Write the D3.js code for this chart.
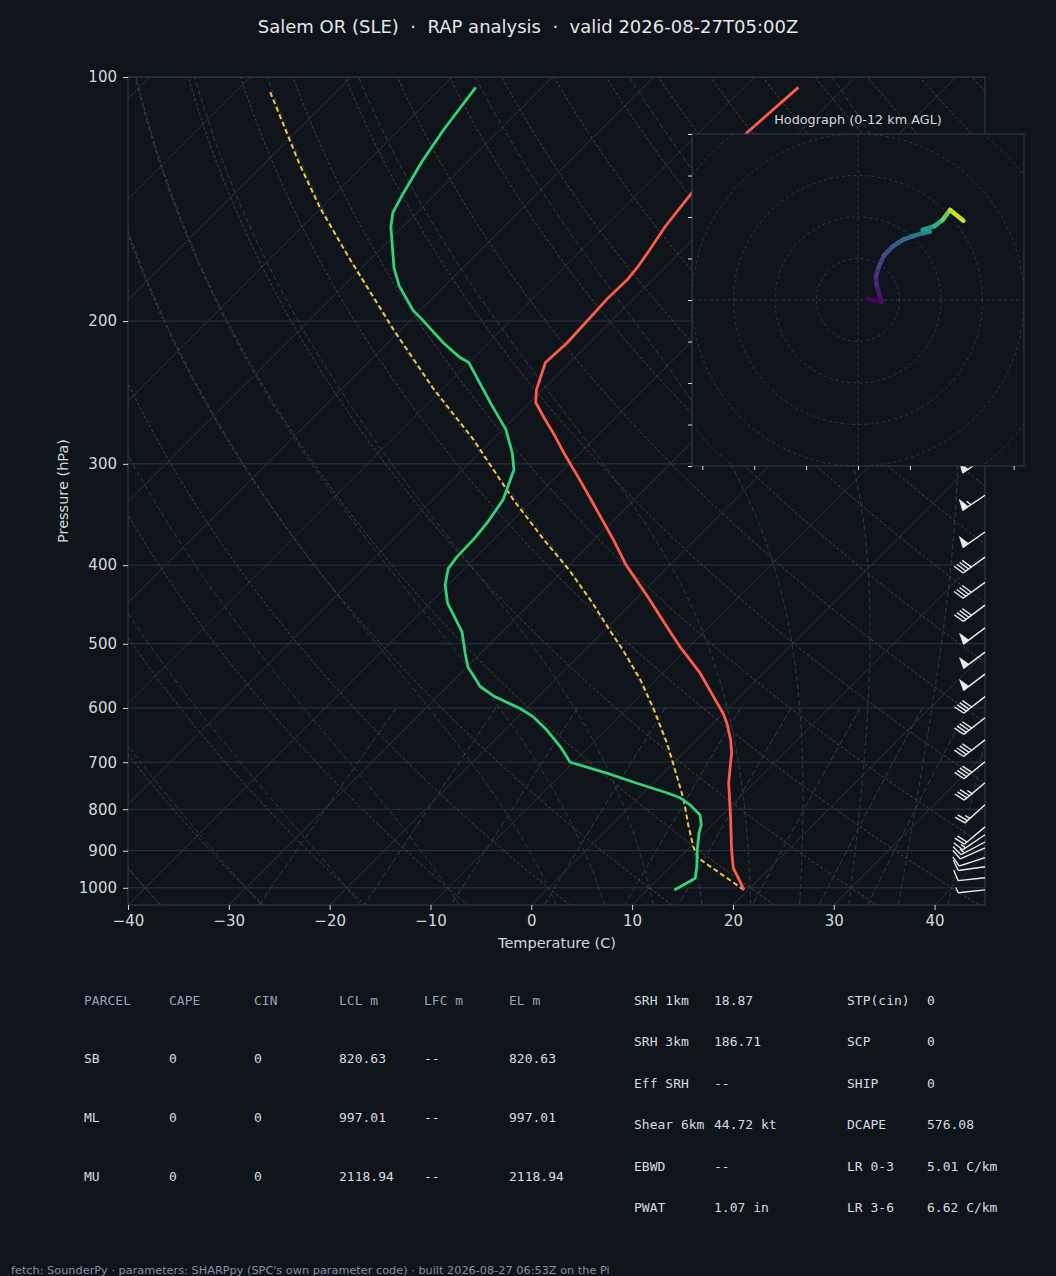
<!DOCTYPE html>
<html lang="en">
<head>
<meta charset="utf-8">
<title>Salem OR (SLE) sounding</title>
<script src="https://cdn.jsdelivr.net/npm/d3@7"></script>
<style>
  html, body { margin: 0; padding: 0; background: #0f141a; }
  svg { display: block; }
  text { font-family: "DejaVu Sans", sans-serif; }
  .mono { font-family: "DejaVu Sans Mono", monospace; }
</style>
</head>
<body>
<svg id="chart" width="1056" height="1276"></svg>
<script>
// ---- sounding data ----
const tempP = [1006, 977, 946, 898, 817, 743, 702, 682, 657, 627, 609, 581, 544, 504, 476, 437, 400, 372, 332, 312, 293, 274, 263, 252, 243, 225, 213, 199, 187, 178, 172, 164, 153, 147, 139, 128, 117, 103]
const tempC = [19.6, 18.1, 16.4, 14.4, 11.0, 7.5, 5.7, 4.8, 3.4, 1.4, 0.0, -2.6, -6.2, -10.9, -14.2, -19.1, -24.3, -28.1, -34.3, -37.7, -41.2, -44.8, -47.1, -49.4, -50.6, -52.4, -52.2, -52.4, -52.6, -52.5, -52.7, -53.2, -54.0, -54.3, -54.7, -54.9, -55.2, -54.6]

const dewP = [1006, 973, 941, 898, 856, 836, 813, 790, 775, 764, 743, 722, 700, 670, 639, 615, 601, 581, 565, 534, 514, 483, 474, 446, 423, 404, 391, 371, 354, 332, 305, 291, 272, 253, 225, 222, 213, 200, 194, 181, 172, 153, 147, 139, 127, 116, 103]
const dewC = [12.7, 13.6, 12.6, 11.0, 9.5, 8.9, 7.8, 5.8, 4.2, 2.4, -1.6, -5.6, -10.3, -12.8, -15.8, -18.5, -20.6, -24.3, -26.7, -29.9, -31.5, -34.0, -35.0, -38.2, -40.3, -41.6, -41.9, -42.0, -42.3, -43.0, -44.9, -46.7, -49.7, -53.7, -60.0, -61.3, -64.4, -68.6, -70.7, -74.5, -76.8, -81.2, -82.4, -83.3, -84.6, -85.6, -86.6]

const parcelP = [1006, 919, 890, 836, 779, 702, 663, 603, 554, 509, 481, 446, 406, 372, 332, 280, 242, 205, 167, 145, 128, 104]
const parcelC = [19.6, 11.9, 10.3, 7.6, 4.7, 0.0, -2.6, -7.2, -11.5, -16.2, -19.5, -23.8, -29.4, -35.0, -42.0, -51.9, -61.0, -70.7, -82.3, -90.1, -96.5, -106.7]

const windP = [295, 328, 364, 391, 420, 448, 478, 512, 545, 581, 617, 657, 699, 742, 790, 841, 860, 878, 893, 918, 942, 972, 1006]
const windKt = [50, 55, 50, 40, 40, 40, 50, 50, 50, 40, 40, 40, 40, 35, 25, 20, 15, 15, 10, 10, 10, 10, 5]
const windDir = [236, 236, 235, 234, 234, 233, 233, 233, 233, 232, 232, 232, 231, 230, 228, 230, 236, 242, 246, 252, 262, 264, 264]

// hodograph, m/s components and height AGL (km)
const hodoU = [2.3, 5.8, 5.1, 4.5, 4.3, 5.0, 6.3, 8.4, 10.8, 13.2, 15.6, 17.3, 15.6, 18.4, 20.4, 22.2, 25.4]
const hodoV = [0.2, -0.4, 1.4, 3.6, 5.6, 8.0, 10.8, 12.9, 14.5, 15.4, 16.1, 16.5, 16.9, 17.8, 19.3, 21.7, 19.1]
const hodoZ = [0, 0.3, 0.6, 1.0, 1.5, 2.0, 2.6, 3.2, 3.8, 4.4, 5.0, 5.5, 6.0, 7.0, 8.5, 10.0, 12.0]

const pressureTicks = [100, 200, 300, 400, 500, 600, 700, 800, 900, 1000]
const tempTicks = [-40, -30, -20, -10, 0, 10, 20, 30, 40]
const hodoRings = [10, 20, 30, 40, 50, 60]
const hodoTicksX = [-37.5, -25, -12.5, 0, 12.5, 25, 37.5]
const hodoTicksY = [-40, -30, -20, -10, 0, 10, 20, 30, 40]

// parcel table
const tableHead = ["PARCEL", "CAPE", "CIN", "LCL m", "LFC m", "EL m"]
const parcelNames = ["SB", "ML", "MU"]
const parcelCape = ["0", "0", "0"]
const parcelCin = ["0", "0", "0"]
const parcelLcl = ["820.63", "997.01", "2118.94"]
const parcelLfc = ["--", "--", "--"]
const parcelEl = ["820.63", "997.01", "2118.94"]

const paramNamesA = ["SRH 1km", "SRH 3km", "Eff SRH", "Shear 6km", "EBWD", "PWAT"]
const paramValsA = ["18.87", "186.71", "--", "44.72 kt", "--", "1.07 in"]
const paramNamesB = ["STP(cin)", "SCP", "SHIP", "DCAPE", "LR 0-3", "LR 3-6"]
const paramValsB = ["0", "0", "0", "576.08", "5.01 C/km", "6.62 C/km"]

// ---- layout ----
const svg = d3.select('#chart')
const bg = '#0f141a'
const textCol = '#d3d8de'
svg.append('rect').attr('width', 1056).attr('height', 1276).attr('fill', bg)

const plot = { left: 128, right: 985, top: 77, bottom: 905 }
const x = d3.scaleLinear().domain([-40, 45]).range([plot.left, plot.right])
const y = d3.scaleLog().domain([1050, 100]).range([plot.bottom, plot.top])
// 45 degree skew: shift right by the height above the bottom edge
const sx = (t, p) => x(t) + (y(1050) - y(p))

svg.append('defs').append('clipPath').attr('id', 'plotClip')
  .append('rect')
  .attr('x', plot.left).attr('y', plot.top)
  .attr('width', plot.right - plot.left).attr('height', plot.bottom - plot.top)

const inner = svg.append('g').attr('clip-path', 'url(#plotClip)')

const line = d3.line().x(d => sx(d[1], d[0])).y(d => y(d[0]))

// pressure levels for the background curves
const pLevels = d3.range(0, 121).map(i => 1050 * Math.pow(100 / 1050, i / 120))

// isotherms (skewed x grid)
d3.range(-130, 41, 10).forEach(t => {
  inner.append('path')
    .attr('d', line([[1050, t], [100, t]]))
    .attr('stroke', '#29323e').attr('stroke-width', 1).attr('fill', 'none')
})
// pressure grid
pressureTicks.forEach(p => {
  inner.append('line')
    .attr('x1', plot.left).attr('x2', plot.right)
    .attr('y1', y(p)).attr('y2', y(p))
    .attr('stroke', '#2a3441').attr('stroke-width', 1)
})

// dry adiabats
d3.range(-40, 246, 10).forEach(t0 => {
  const th = t0 + 273.15
  const pts = pLevels.map(p => [p, th * Math.pow(p / 1000, 0.2857) - 273.15])
  inner.append('path').attr('d', line(pts))
    .attr('stroke', '#4e4030').attr('stroke-width', 1)
    .attr('stroke-dasharray', '3,2').attr('fill', 'none')
})

// moist adiabats
const Rd = 287.04, Cp = 1005.7, Lv = 2.501e6, eps = 0.622
const es = tk => { const c = tk - 273.15; return 6.112 * Math.exp(17.67 * c / (c + 243.5)) }
const moistRate = (p, tk) => {
  const e = es(tk), rs = eps * e / (p - e)
  return (Rd * tk + Lv * rs) / (Cp + Lv * Lv * rs * eps / (Rd * tk * tk)) / p
}
function integrate(t0, p0, p1, n) {
  const h = (p1 - p0) / n
  let tk = t0, p = p0
  const out = [[p, tk - 273.15]]
  for (let i = 0; i < n; i++) {
    const k1 = moistRate(p, tk)
    const k2 = moistRate(p + h / 2, tk + h / 2 * k1)
    const k3 = moistRate(p + h / 2, tk + h / 2 * k2)
    const k4 = moistRate(p + h, tk + h * k3)
    tk += h / 6 * (k1 + 2 * k2 + 2 * k3 + k4)
    p += h
    out.push([p, tk - 273.15])
  }
  return out
}
const moistStarts = d3.range(-40, 0, 10).concat(d3.range(0, 46, 5))
moistStarts.forEach(t0 => {
  const down = integrate(t0 + 273.15, 1000, 1050, 10).reverse()
  const up = integrate(t0 + 273.15, 1000, 100, 300)
  inner.append('path').attr('d', line(down.concat(up.slice(1))))
    .attr('stroke', '#26424b').attr('stroke-width', 1)
    .attr('stroke-dasharray', '5,3').attr('fill', 'none')
})

// mixing ratio lines
const mixRatios = [0.0004, 0.001, 0.002, 0.004, 0.007, 0.01, 0.016, 0.024, 0.032]
mixRatios.forEach(w => {
  const pts = d3.range(0, 21).map(i => {
    const p = 600 + (1050 - 600) * i / 20
    const a = Math.log(w * p / (eps + w) / 6.112)
    return [p, 243.5 * a / (17.67 - a)]
  })
  inner.append('path').attr('d', line(pts))
    .attr('stroke', '#2a3e56').attr('stroke-width', 1)
    .attr('stroke-dasharray', '6,3').attr('fill', 'none')
})

// profiles
const zipP = (ps, ts) => ps.map((p, i) => [p, ts[i]])
inner.append('path').attr('d', line(zipP(parcelP, parcelC)))
  .attr('stroke', '#f4c443').attr('stroke-width', 2)
  .attr('stroke-dasharray', '5,3').attr('fill', 'none')
inner.append('path').attr('d', line(zipP(tempP, tempC)))
  .attr('stroke', '#ff5a4a').attr('stroke-width', 2.8)
  .attr('stroke-linejoin', 'round').attr('fill', 'none')
inner.append('path').attr('d', line(zipP(dewP, dewC)))
  .attr('stroke', '#33d17a').attr('stroke-width', 2.8)
  .attr('stroke-linejoin', 'round').attr('fill', 'none')

// spines
svg.append('rect')
  .attr('x', plot.left).attr('y', plot.top)
  .attr('width', plot.right - plot.left).attr('height', plot.bottom - plot.top)
  .attr('fill', 'none').attr('stroke', '#33404f').attr('stroke-width', 1)

// axes
const yAxis = svg.append('g').attr('transform', `translate(${plot.left},0)`)
  .call(d3.axisLeft(y).tickValues(pressureTicks).tickFormat(d3.format('d')).tickSize(5).tickPadding(6))
const xAxis = svg.append('g').attr('transform', `translate(0,${plot.bottom})`)
  .call(d3.axisBottom(x).tickValues(tempTicks).tickFormat(d3.format('d')).tickSize(5).tickPadding(5))
;[yAxis, xAxis].forEach(a => {
  a.select('.domain').remove()
  a.selectAll('.tick line').attr('stroke', textCol)
  a.selectAll('.tick text').attr('fill', textCol)
    .style('font-family', '"DejaVu Sans", sans-serif').style('font-size', '15px')
})

svg.append('text').attr('x', 557).attr('y', 948).attr('text-anchor', 'middle')
  .attr('fill', textCol).style('font-size', '14.5px').text('Temperature (C)')
svg.append('text').attr('transform', 'translate(68,491) rotate(-90)').attr('text-anchor', 'middle')
  .attr('fill', textCol).style('font-size', '14.5px').text('Pressure (hPa)')

svg.append('text').attr('x', 528).attr('y', 33).attr('text-anchor', 'middle')
  .attr('fill', '#e2e6eb').style('font-size', '18px').style('white-space', 'pre')
  .text('Salem OR (SLE)  ·  RAP analysis  ·  valid 2026-08-27T05:00Z')

// ---- wind barbs along the right edge ----
const barbG = svg.append('g')
function drawBarb(px, py, spd, dir) {
  const L = 27, fh = 0.4 * L, fw = 0.25 * L, sp = 0.125 * L
  const r = dir * Math.PI / 180
  const d = [Math.sin(r), -Math.cos(r)]
  const n = [-d[1], d[0]]
  const pt = (s, h) => [px + d[0] * s + n[0] * h, py + d[1] * s + n[1] * h]
  let rest = Math.round(spd / 5) * 5
  const flags = Math.floor(rest / 50); rest -= flags * 50
  const fulls = Math.floor(rest / 10); rest -= fulls * 10
  const half = rest >= 5
  const col = '#e8ebef'
  barbG.append('line')
    .attr('x1', px).attr('y1', py).attr('x2', pt(L, 0)[0]).attr('y2', pt(L, 0)[1])
    .attr('stroke', col).attr('stroke-width', 1.4)
  let off = L
  for (let i = 0; i < flags; i++) {
    barbG.append('polygon')
      .attr('points', [pt(off, 0), pt(off - fw / 2, fh), pt(off - fw, 0)].map(q => q.join(',')).join(' '))
      .attr('fill', col).attr('stroke', col).attr('stroke-width', 0.8)
    off -= fw + sp
  }
  for (let i = 0; i < fulls; i++) {
    const a = pt(off, 0), b = pt(off + fw / 2, fh)
    barbG.append('line').attr('x1', a[0]).attr('y1', a[1]).attr('x2', b[0]).attr('y2', b[1])
      .attr('stroke', col).attr('stroke-width', 1.4)
    off -= sp
  }
  if (half) {
    const a = pt(off, 0), b = pt(off + fw / 4, fh / 2)
    barbG.append('line').attr('x1', a[0]).attr('y1', a[1]).attr('x2', b[0]).attr('y2', b[1])
      .attr('stroke', col).attr('stroke-width', 1.4)
  }
}
windP.forEach((p, i) => drawBarb(plot.right, y(p), windKt[i], windDir[i]))

// ---- hodograph inset ----
const hodo = { left: 692, right: 1024, top: 134, bottom: 466 }
const hx = d3.scaleLinear().domain([-40, 40]).range([hodo.left, hodo.right])
const hy = d3.scaleLinear().domain([-40, 40]).range([hodo.bottom, hodo.top])
svg.append('defs').append('clipPath').attr('id', 'hodoClip')
  .append('rect').attr('x', hodo.left).attr('y', hodo.top)
  .attr('width', hodo.right - hodo.left).attr('height', hodo.bottom - hodo.top)

svg.append('rect').attr('x', hodo.left).attr('y', hodo.top)
  .attr('width', hodo.right - hodo.left).attr('height', hodo.bottom - hodo.top)
  .attr('fill', bg)
const hg = svg.append('g').attr('clip-path', 'url(#hodoClip)')
hodoRings.forEach(rv => {
  hg.append('circle').attr('cx', hx(0)).attr('cy', hy(0)).attr('r', hx(rv) - hx(0))
    .attr('fill', 'none').attr('stroke', '#2e3846').attr('stroke-width', 1)
    .attr('stroke-dasharray', '3,3')
})
hg.append('line').attr('x1', hodo.left).attr('x2', hodo.right).attr('y1', hy(0)).attr('y2', hy(0))
  .attr('stroke', '#2e3846').attr('stroke-dasharray', '3,3')
hg.append('line').attr('y1', hodo.top).attr('y2', hodo.bottom).attr('x1', hx(0)).attr('x2', hx(0))
  .attr('stroke', '#2e3846').attr('stroke-dasharray', '3,3')

const zMax = 12
for (let i = 0; i < hodoU.length - 1; i++) {
  hg.append('line')
    .attr('x1', hx(hodoU[i])).attr('y1', hy(hodoV[i]))
    .attr('x2', hx(hodoU[i + 1])).attr('y2', hy(hodoV[i + 1]))
    .attr('stroke', d3.interpolateViridis(((hodoZ[i] + hodoZ[i + 1]) / 2) / zMax))
    .attr('stroke-width', 4.5).attr('stroke-linecap', 'round')
}

svg.append('rect').attr('x', hodo.left).attr('y', hodo.top)
  .attr('width', hodo.right - hodo.left).attr('height', hodo.bottom - hodo.top)
  .attr('fill', 'none').attr('stroke', '#33404f').attr('stroke-width', 1)

const hyAxis = svg.append('g').attr('transform', `translate(${hodo.left},0)`)
  .call(d3.axisLeft(hy).tickValues(hodoTicksY).tickFormat('').tickSize(4))
const hxAxis = svg.append('g').attr('transform', `translate(0,${hodo.bottom})`)
  .call(d3.axisBottom(hx).tickValues(hodoTicksX).tickFormat('').tickSize(4))
;[hyAxis, hxAxis].forEach(a => {
  a.select('.domain').remove()
  a.selectAll('.tick line').attr('stroke', textCol)
})
svg.append('text').attr('x', 858).attr('y', 124).attr('text-anchor', 'middle')
  .attr('fill', textCol).style('font-size', '12.8px').text('Hodograph (0-12 km AGL)')

// ---- parameter table ----
const tbl = svg.append('g').attr('class', 'mono').style('font-size', '13px')
const colX = [84, 169, 254, 339, 424, 509]
const headCol = '#93a4b8'
const valCol = '#d6dbe1'
tableHead.forEach((h, i) => {
  tbl.append('text').attr('class', 'mono').attr('x', colX[i]).attr('y', 1004.5)
    .attr('fill', headCol).text(h)
})
const rowY = [1062.5, 1121.5, 1180.5]
const cols = [parcelNames, parcelCape, parcelCin, parcelLcl, parcelLfc, parcelEl]
parcelNames.forEach((_, r) => {
  cols.forEach((c, i) => {
    tbl.append('text').attr('class', 'mono').attr('x', colX[i]).attr('y', rowY[r])
      .attr('fill', valCol).text(c[r])
  })
})
const paramY = [1004.5, 1045.5, 1087.5, 1128.5, 1170.5, 1211.5]
paramY.forEach((yy, r) => {
  tbl.append('text').attr('class', 'mono').attr('x', 634).attr('y', yy).attr('fill', valCol).text(paramNamesA[r])
  tbl.append('text').attr('class', 'mono').attr('x', 714).attr('y', yy).attr('fill', valCol).text(paramValsA[r])
  tbl.append('text').attr('class', 'mono').attr('x', 847).attr('y', yy).attr('fill', valCol).text(paramNamesB[r])
  tbl.append('text').attr('class', 'mono').attr('x', 927).attr('y', yy).attr('fill', valCol).text(paramValsB[r])
})

svg.append('text').attr('x', 11).attr('y', 1274).attr('fill', '#8592a3').style('font-size', '11.3px')
  .text("fetch: SounderPy · parameters: SHARPpy (SPC's own parameter code) · built 2026-08-27 06:53Z on the Pi")
</script>
</body>
</html>
